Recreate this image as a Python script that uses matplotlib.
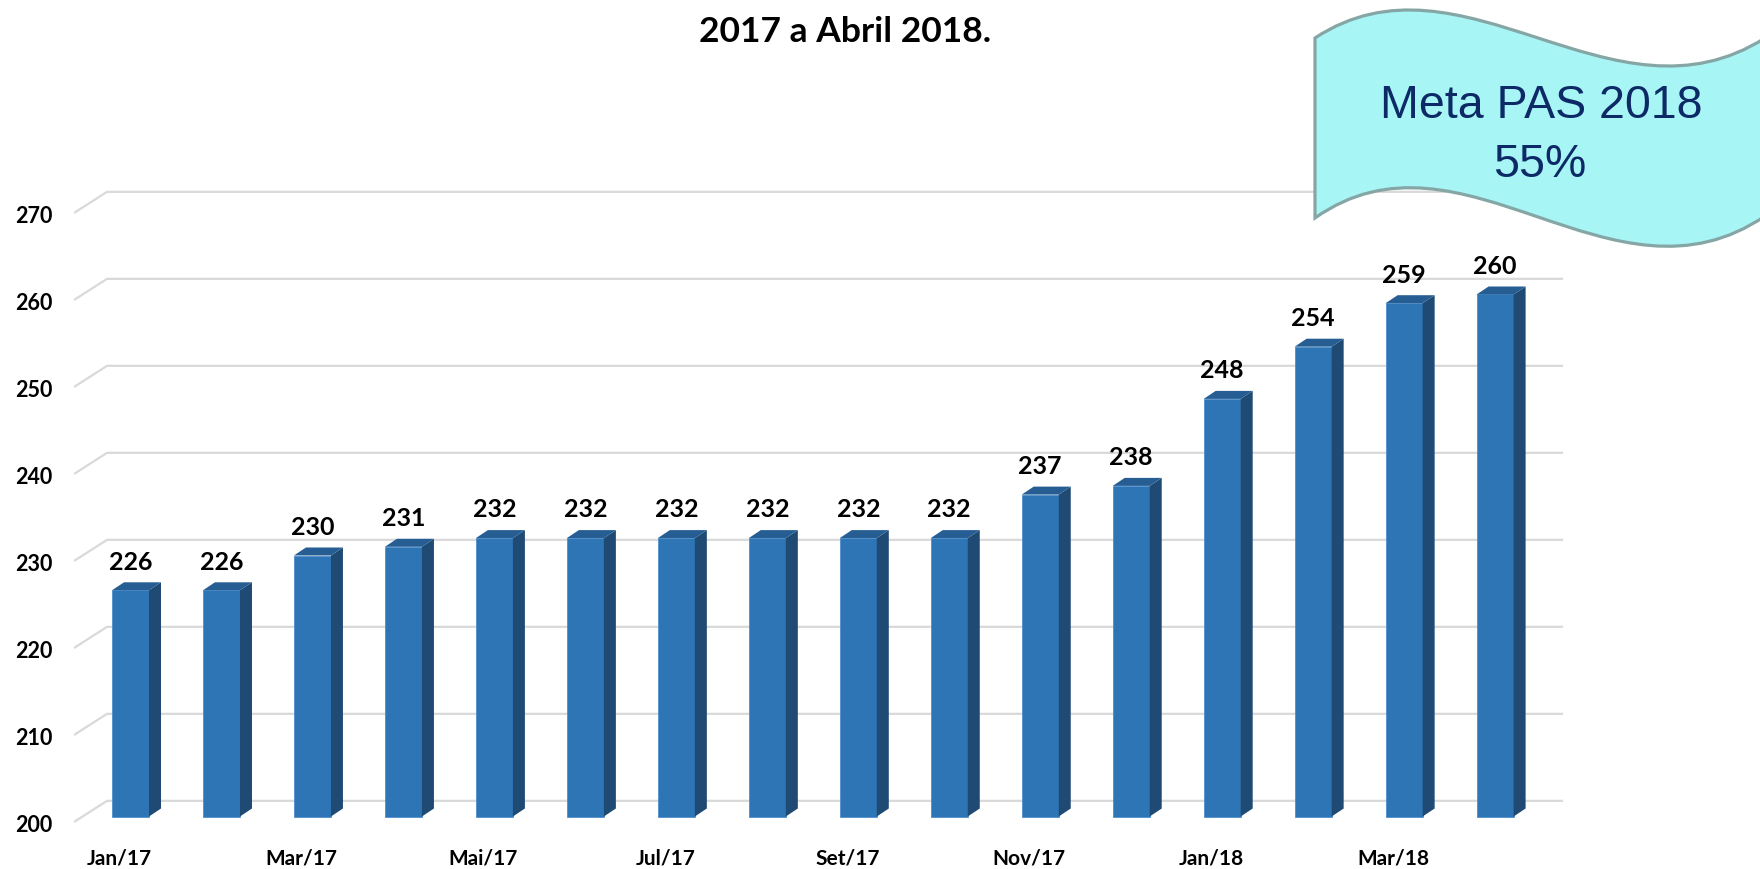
import matplotlib
matplotlib.use("Agg")
import matplotlib.pyplot as plt
from matplotlib.patches import Polygon, PathPatch
from matplotlib.path import Path
import numpy as np

# ---------------- data ----------------
months = ["Jan/17", "Fev/17", "Mar/17", "Abr/17", "Mai/17", "Jun/17", "Jul/17", "Ago/17",
          "Set/17", "Out/17", "Nov/17", "Dez/17", "Jan/18", "Fev/18", "Mar/18", "Abr/18"]
values = [226, 226, 230, 231, 232, 232, 232, 232, 232, 232, 237, 238, 248, 254, 259, 260]
y_ticks = [200, 210, 220, 230, 240, 250, 260, 270]
title = "2017 a Abril 2018."
banner_lines = ["Meta PAS 2018", "55%"]

# ---------------- figure ----------------
W, H = 1760, 869
fig = plt.figure(figsize=(W / 100, H / 100), dpi=100)
ax = fig.add_axes([74 / W, 34 / H, 1 - 74 / W, 835 / H])
XMIN, XMAX = -0.621, 17.912
YMIN, YMAX = 197.874, 293.85
ax.set_xlim(XMIN, XMAX)
ax.set_ylim(YMIN, YMAX)
for s in ax.spines.values():
    s.set_visible(False)
ax.set_xticks([])
ax.set_yticks([])

base = y_ticks[0]
bar_w = 0.407
dx = 0.132
dy = 0.92
grid_back = 1.8
grid_front = -0.63
x_back = -0.258
x_end = 15.747

FONT = "Lato"

# gridlines (3D-style floor/back wall)
for t in y_ticks:
    ax.plot([XMIN, x_back, x_end], [t + grid_front, t + grid_back, t + grid_back],
            color="#D9D9D9", lw=1.6, zorder=1, solid_capstyle="butt")
    ax.annotate(str(t), (XMIN, t), xytext=(-15.8, -10.9), textcoords="offset points",
                ha="right", va="baseline", fontsize=15.5, fontweight="bold",
                family=FONT, color="black", annotation_clip=False)

# bars
x = np.arange(len(values))
vals = np.array(values)
ax.bar(x, vals - base, bottom=base, width=bar_w, color="#2E75B6",
       edgecolor="#4F8FCC", linewidth=0.6, zorder=3)
for xi, v in zip(x, vals):
    xl, xr = xi - bar_w / 2, xi + bar_w / 2
    ax.add_patch(Polygon([(xr, base), (xr + dx, base + dy), (xr + dx, v + dy), (xr, v)],
                         closed=True, fc="#1F4A73", ec="none", zorder=3))
    ax.add_patch(Polygon([(xl, v), (xl + dx, v + dy), (xr + dx, v + dy), (xr, v)],
                         closed=True, fc="#265E93", ec="none", zorder=3))
    ax.annotate(str(v), (xi, v), xytext=(0, 14.9), textcoords="offset points",
                ha="center", va="baseline", fontsize=18, fontweight="bold",
                family=FONT, color="black", zorder=4)

# x labels (every other month)
for xi, m in list(zip(x, months))[::2]:
    ax.annotate(m, (xi, base), xytext=(-7.9, -34.2), textcoords="offset points",
                ha="center", va="baseline", fontsize=15, fontweight="bold",
                family=FONT, color="black", annotation_clip=False)

# title (first line cut off in the original)
fig.text(845 / W, 1 - 41.7 / H, title, ha="center", va="baseline",
         fontsize=25.5, fontweight="bold", family=FONT, color="black")

# banner (wavy flag)
def P(px, py):
    return (px / W, 1 - py / H)

xr_b = 1765
verts = [P(1315, 218), P(1315, 38),
         P(1463, -59), P(1612, 135), P(xr_b, 38),
         P(xr_b, 216),
         P(1612, 320), P(1463, 114), P(1315, 218),
         P(1315, 218)]
codes = [Path.MOVETO, Path.LINETO,
         Path.CURVE4, Path.CURVE4, Path.CURVE4,
         Path.LINETO,
         Path.CURVE4, Path.CURVE4, Path.CURVE4,
         Path.CLOSEPOLY]
banner = PathPatch(Path(verts, codes), transform=fig.transFigure, fc="#A7F5F5",
                   ec="#86A6A6", lw=2.3, zorder=5)
fig.add_artist(banner)
fig.text(1541 / W, 1 - 118.3 / H, banner_lines[0], ha="center", va="baseline",
         fontsize=33.5, family="Liberation Sans", color="#0D2A66", zorder=6)
fig.text(1540 / W, 1 - 176.7 / H, banner_lines[1], ha="center", va="baseline",
         fontsize=33.5, family="Liberation Sans", color="#0D2A66", zorder=6)

fig.savefig("out.png", dpi=100)
